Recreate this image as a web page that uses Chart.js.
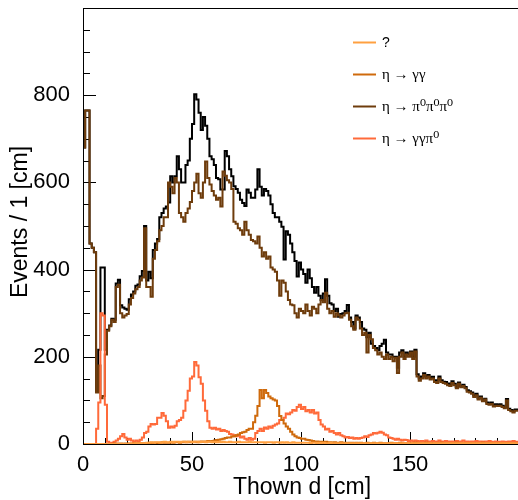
<!DOCTYPE html>
<html lang="en">
<head>
<meta charset="UTF-8">
<title>Thown d</title>
<script src="https://cdn.jsdelivr.net/npm/chart.js@4.4.1/dist/chart.umd.min.js"></script>
<style>
  html, body { margin: 0; padding: 0; background: #fff; overflow: hidden; }
</style>
</head>
<body>
<canvas id="chart" width="521" height="500"></canvas>
<script>
// 1 cm bins, 0..200 cm
var nBins = 200;

// total (black)
var total = [
  70, 680, 765, 765, 460, 450, 440, 120, 216, 405,
  405, 216, 262, 272, 287, 285, 368, 377, 318, 313,
  310, 308, 332, 343, 350, 363, 366, 385, 397, 500,
  375, 395, 380, 445, 460, 470, 520, 530, 540, 545,
  554, 614, 600, 614, 660, 630, 600, 600, 640, 650,
  700, 734, 802, 790, 760, 720, 750, 730, 700, 660,
  653, 640, 610, 607, 584, 584, 672, 660, 630, 614,
  591, 585, 576, 560, 553, 546, 584, 576, 565, 565,
  584, 630, 590, 570, 585, 580, 570, 550, 530, 520,
  520, 510, 498, 423, 488, 480, 460, 440, 420, 384,
  416, 400, 390, 370, 400, 380, 360, 347, 360, 340,
  330, 345, 378, 340, 323, 320, 305, 310, 292, 298,
  300, 305, 319, 290, 280, 265, 295, 290, 280, 265,
  262, 245, 255, 230, 225, 220, 215, 225, 230, 239,
  210, 205, 205, 200, 200, 175, 210, 215, 200, 210,
  205, 212, 200, 216, 160, 150, 155, 162, 155, 158,
  152, 154, 146, 145, 155, 146, 143, 142, 139, 136,
  144, 138, 131, 141, 133, 136, 131, 123, 121, 118,
  111, 115, 105, 109, 101, 104, 95, 93, 95, 89,
  91, 90, 91, 88, 85, 103, 81, 78, 75, 79
];

// eta -> pi0 pi0 pi0
var ppp = [
  70, 680, 765, 765, 460, 450, 440, 118, 180, 105,
  110, 205, 260, 270, 285, 280, 360, 365, 300, 290,
  295, 298, 320, 335, 345, 355, 360, 375, 382, 495,
  360, 360, 338, 425, 445, 465, 490, 500, 520, 520,
  600, 590, 575, 610, 600, 530, 520, 510, 530, 540,
  555, 580, 600, 620, 575, 565, 600, 648, 610, 595,
  580, 570, 560, 565, 545, 625, 615, 605, 600, 585,
  510, 505, 495, 490, 480, 510, 490, 480, 468, 465,
  460, 476, 450, 430, 440, 425, 430, 405, 400, 395,
  375, 340, 375, 370, 350, 330, 320, 318, 300, 290,
  310, 305, 300, 320, 305, 295, 315, 310, 300, 320,
  330, 325, 347, 310, 300, 305, 292, 300, 295, 290,
  295, 300, 301, 285, 270, 262, 290, 285, 265, 250,
  255, 210, 250, 240, 220, 215, 205, 210, 200, 195,
  205, 195, 200, 190, 198, 163, 200, 210, 195, 205,
  200, 210, 195, 212, 155, 145, 150, 158, 150, 155,
  148, 150, 142, 140, 150, 142, 140, 138, 135, 133,
  140, 135, 128, 138, 130, 133, 128, 120, 118, 115,
  108, 112, 102, 106, 98, 102, 92, 90, 92, 86,
  88, 87, 88, 85, 82, 100, 78, 75, 72, 76
];

// eta -> gamma gamma pi0
var ggp = [
  0, 0, 0, 0, 0, 0, 0, 35, 95, 300,
  295, 90, 5, 2, 3, 5, 8, 12, 18, 23,
  15, 10, 12, 8, 5, 8, 6, 10, 15, 25,
  28, 40, 46, 45, 46, 60, 60, 71, 65, 52,
  37, 40, 38, 42, 52, 55, 60, 76, 100, 122,
  150, 155, 188, 180, 153, 138, 100, 76, 52, 37,
  35, 37, 33, 35, 30, 32, 30, 28, 23, 22,
  20, 18, 20, 15, 17, 12, 10, 14, 10, 12,
  25, 30, 35, 30, 38, 35, 40, 37, 42, 45,
  47, 55, 55, 60, 70, 68, 72, 78, 76, 85,
  90, 80, 85, 75, 78, 72, 78, 70, 72, 55,
  45, 40, 33, 35, 28, 30, 25, 22, 25, 20,
  18, 15, 16, 14, 15, 12, 14, 12, 14, 15,
  18, 16, 20, 22, 25, 24, 26, 28, 26, 22,
  20, 15, 14, 12, 10, 12, 10, 8, 10, 9,
  7, 8, 6, 8, 7, 5, 7, 6, 8, 6,
  5, 7, 6, 5, 8, 6, 5, 7, 6, 5,
  6, 5, 7, 5, 6, 8, 5, 6, 4, 6,
  5, 7, 5, 6, 4, 6, 5, 7, 5, 4,
  6, 5, 4, 6, 5, 4, 6, 5, 7, 5
];

// eta -> gamma gamma
var gg = [
  0, 0, 0, 0, 0, 0, 0, 0, 0, 0,
  0, 0, 0, 0, 0, 1, 0, 1, 1, 0,
  1, 1, 0, 1, 2, 1, 2, 1, 2, 2,
  2, 3, 2, 3, 3, 2, 3, 4, 3, 3,
  3, 4, 3, 4, 4, 3, 4, 5, 4, 5,
  4, 5, 5, 4, 5, 6, 5, 6, 7, 6,
  7, 8, 9, 10, 11, 12, 14, 15, 15, 17,
  18, 20, 22, 25, 27, 28, 32, 35, 35, 50,
  65, 87, 124, 105, 124, 117, 109, 105, 102, 100,
  87, 64, 55, 47, 40, 35, 28, 22, 18, 15,
  14, 12, 12, 10, 9, 8, 7, 6, 6, 5,
  5, 4, 5, 4, 4, 3, 4, 3, 3, 4,
  3, 3, 2, 3, 3, 2, 3, 2, 3, 2,
  2, 3, 2, 2, 3, 2, 2, 3, 2, 2,
  2, 2, 3, 2, 2, 2, 3, 2, 2, 2,
  2, 2, 2, 3, 2, 2, 2, 2, 3, 2,
  2, 2, 2, 2, 2, 3, 2, 2, 2, 2,
  2, 2, 3, 2, 2, 2, 2, 2, 2, 2,
  2, 2, 2, 2, 3, 2, 2, 2, 2, 2,
  2, 2, 2, 2, 2, 2, 2, 2, 2, 2
];

// "?"
var unknown = [
  0, 0, 0, 0, 0, 0, 0, 0, 0, 0,
  0, 0, 0, 0, 0, 0, 0, 0, 0, 0,
  0, 0, 1, 1, 1, 2, 1, 2, 2, 2,
  3, 3, 4, 3, 4, 4, 3, 4, 5, 4,
  4, 5, 4, 5, 5, 4, 5, 5, 4, 5,
  5, 4, 5, 5, 4, 5, 5, 4, 5, 5,
  4, 5, 4, 5, 4, 5, 4, 4, 5, 4,
  4, 4, 5, 4, 4, 4, 4, 5, 4, 4,
  4, 4, 4, 4, 3, 4, 4, 4, 3, 4,
  4, 3, 4, 3, 4, 3, 3, 4, 3, 3,
  3, 3, 3, 3, 3, 2, 3, 3, 2, 3,
  2, 3, 2, 2, 3, 2, 2, 2, 2, 2,
  2, 2, 2, 2, 2, 2, 2, 2, 2, 2,
  2, 2, 2, 2, 2, 2, 2, 2, 2, 2,
  2, 2, 2, 2, 2, 2, 2, 2, 2, 2,
  2, 2, 2, 2, 2, 2, 2, 2, 2, 2,
  2, 2, 2, 2, 2, 2, 2, 2, 2, 2,
  2, 2, 2, 2, 2, 2, 2, 2, 2, 2,
  2, 2, 2, 2, 2, 2, 2, 2, 2, 2,
  2, 2, 2, 2, 2, 2, 2, 2, 2, 2
];

var labels = ['?', 'η → γγ', 'η → π⁰π⁰π⁰', 'η → γγπ⁰'];
var xTitle = 'Thown d [cm]';
var yTitle = 'Events / 1 [cm]';

var sans = '"Liberation Sans", Arial, Helvetica, sans-serif';
var serif = '"Liberation Serif", "DejaVu Serif", serif';

// histogram: one point per bin low edge, plus the upper edge of the last bin
function hist(arr) {
    var pts = arr.map(function (v, i) { return { x: i, y: v }; });
    pts.push({ x: arr.length, y: arr[arr.length - 1] });
    return pts;
}

function ds(label, arr, color, order) {
    return {
        label: label,
        data: hist(arr),
        borderColor: color,
        backgroundColor: color,
        borderWidth: 2,
        pointRadius: 0,
        stepped: 'after',
        fill: false,
        order: order
    };
}

var frame = {
    id: 'frame',
    beforeDatasetsDraw: function (chart) {
        var ctx = chart.ctx, a = chart.chartArea, x = chart.scales.x, y = chart.scales.y;
        ctx.save();
        ctx.strokeStyle = '#000';
        ctx.lineWidth = 1;
        ctx.beginPath();
        for (var v = 0; v <= 1000; v += 50) {
            var py = Math.round(y.getPixelForValue(v)) + 0.5;
            var len = v % 200 === 0 ? 13 : 7;
            ctx.moveTo(a.left, py);
            ctx.lineTo(a.left + len, py);
        }
        for (var u = 0; u <= 200; u += 10) {
            var px = Math.round(x.getPixelForValue(u)) + 0.5;
            var l2 = u % 50 === 0 ? 12 : 6;
            ctx.moveTo(px, a.bottom);
            ctx.lineTo(px, a.bottom - l2);
        }
        ctx.stroke();
        ctx.restore();
    },
    afterDatasetsDraw: function (chart) {
        var ctx = chart.ctx, a = chart.chartArea;
        ctx.save();
        ctx.strokeStyle = '#000';
        ctx.lineWidth = 1;
        ctx.strokeRect(Math.round(a.left) + 0.5, Math.round(a.top) + 0.5,
            Math.round(a.right - a.left), Math.round(a.bottom - a.top));
        ctx.restore();
    },
    afterDraw: function (chart) {
        var ctx = chart.ctx;
        ctx.save();
        ctx.fillStyle = '#000';
        // axis titles
        ctx.font = '23px ' + sans;
        ctx.textAlign = 'center';
        ctx.textBaseline = 'alphabetic';
        ctx.fillText(xTitle, 302, 494);
        ctx.translate(27, 222);
        ctx.rotate(-Math.PI / 2);
        ctx.fillText(yTitle, 0, 0);
        ctx.restore();

        // legend
        var order = [4, 2, 1, 3]; // dataset indices for ?, gg, ppp, ggp
        ctx.save();
        ctx.textAlign = 'left';
        ctx.textBaseline = 'middle';
        for (var i = 0; i < order.length; i++) {
            var d = chart.data.datasets[order[i]];
            var ly = 42.5 + i * 32;
            ctx.strokeStyle = d.borderColor;
            ctx.lineWidth = 2;
            ctx.beginPath();
            ctx.moveTo(353, ly);
            ctx.lineTo(376, ly);
            ctx.stroke();
            ctx.fillStyle = '#000';
            ctx.font = (i === 0 ? '14px ' + sans : '15px ' + serif);
            ctx.fillText(d.label, 382, ly + 1);
        }
        ctx.restore();
    }
};

var context = document.getElementById('chart');
var config = {
    type: 'line',
    data: {
        datasets: [
            ds('total', total, '#000000', 5),
            ds(labels[2], ppp, '#6e3c0c', 4),
            ds(labels[1], gg, '#cf6a0c', 2),
            ds(labels[3], ggp, '#ff6a3a', 3),
            ds(labels[0], unknown, '#ffa040', 1)
        ]
    },
    options: {
        responsive: false,
        animation: false,
        events: [],
        layout: { padding: { top: 8, right: 2, left: 0, bottom: 0 } },
        plugins: { legend: { display: false }, tooltip: { enabled: false } },
        scales: {
            x: {
                type: 'linear',
                min: 0,
                max: nBins,
                grid: { display: false },
                border: { display: false },
                ticks: {
                    stepSize: 50,
                    color: '#000',
                    padding: 0,
                    maxRotation: 0,
                    autoSkip: false,
                    font: { family: sans, size: 22 },
                    callback: function (v) { return v < nBins ? v : ''; }
                },
                afterFit: function (s) { s.height = 56; }
            },
            y: {
                min: 0,
                max: 1000,
                grid: { display: false },
                border: { display: false },
                ticks: {
                    stepSize: 200,
                    color: '#000',
                    padding: 5,
                    font: { family: sans, size: 22, lineHeight: 0.05 },
                    callback: function (v) { return v < 1000 ? v : ''; }
                },
                afterFit: function (s) { s.width = 83; }
            }
        }
    },
    plugins: [frame]
};
var chart = new Chart(context, config);
</script>
</body>
</html>
